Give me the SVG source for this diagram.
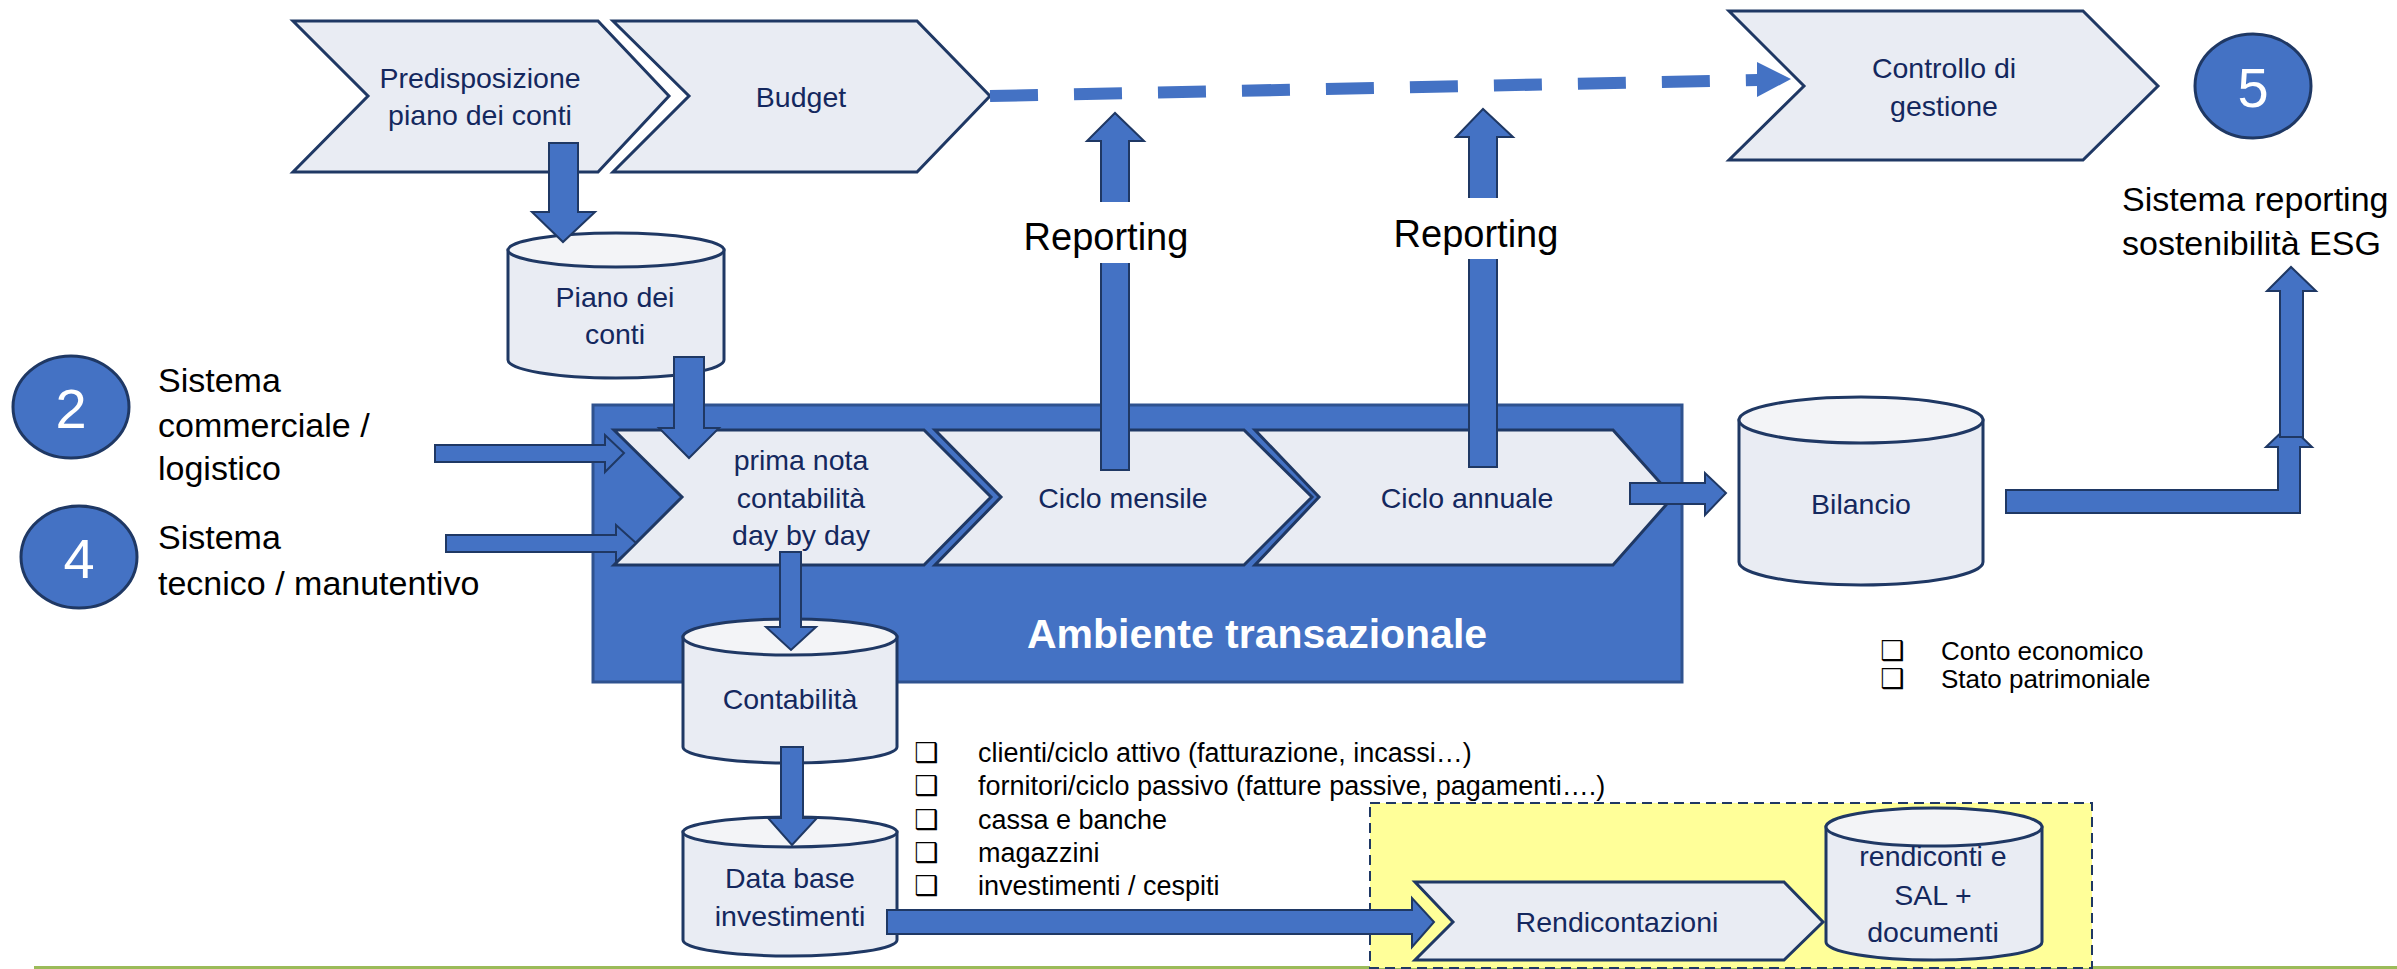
<svg xmlns="http://www.w3.org/2000/svg" width="2397" height="969" viewBox="0 0 2397 969">
<style>
.chev{fill:#E9ECF3;stroke:#1F3864;stroke-width:3;stroke-linejoin:miter}
.cylb{fill:#E9ECF3;stroke:#1F3864;stroke-width:3}
.cylt{fill:#F3F4F7;stroke:#1F3864;stroke-width:3}
.arr{fill:#4472C4;stroke:#1F3864;stroke-width:2;stroke-linejoin:miter}
.circ{fill:#4472C4;stroke:#1F3864;stroke-width:3}
.t{font-family:"Liberation Sans",Arial,sans-serif;font-size:28.5px;fill:#14285E;text-anchor:middle}
.k{font-family:"Liberation Sans",Arial,sans-serif;font-size:34px;fill:#000}
.rep{font-family:"Liberation Sans",Arial,sans-serif;font-size:38px;fill:#000;text-anchor:middle}
.num{font-family:"Liberation Sans",Arial,sans-serif;font-size:56px;fill:#fff;text-anchor:middle}
.b1{font-family:"Liberation Sans",Arial,sans-serif;font-size:27px;fill:#000}
.b2{font-family:"Liberation Sans",Arial,sans-serif;font-size:26px;fill:#000}
.bul{font-family:"DejaVu Sans",sans-serif;font-size:27px;font-weight:bold;fill:#000}
</style>

<!-- background elements -->
<rect id="bottom-line" x="34" y="966" width="2363" height="3" fill="#9BBB59"/>

<g id="ambiente">
  <rect x="593" y="405" width="1089" height="277" fill="#4472C4" stroke="#2F528F" stroke-width="3"/>
  <text x="1257" y="648" font-family="Liberation Sans,Arial,sans-serif" font-size="41" font-weight="bold" fill="#fff" text-anchor="middle">Ambiente transazionale</text>
</g>

<g id="yellow-area">
  <rect x="1370" y="803" width="722" height="165" fill="#FFFF99" stroke="#1F3864" stroke-width="2" stroke-dasharray="10 6"/>
</g>

<!-- top chevrons -->
<g id="predisposizione">
  <polygon class="chev" points="293,21 598,21 669,96 598,172 293,172 368,96"/>
  <text class="t" x="480" y="88">Predisposizione</text>
  <text class="t" x="480" y="125">piano dei conti</text>
</g>
<g id="budget">
  <polygon class="chev" points="613,21 917,21 990,96 917,172 613,172 689,96"/>
  <text class="t" x="801" y="107">Budget</text>
</g>
<g id="controllo">
  <polygon class="chev" points="1729,11 2083,11 2158,86 2083,160 1729,160 1804,86"/>
  <text class="t" x="1944" y="78">Controllo di</text>
  <text class="t" x="1944" y="116">gestione</text>
</g>

<!-- process chevrons -->
<g id="prima-nota">
  <polygon class="chev" points="614,430 924,430 991,497 924,565 614,565 682,497"/>
  <text class="t" x="801" y="470">prima nota</text>
  <text class="t" x="801" y="508">contabilità</text>
  <text class="t" x="801" y="545">day by day</text>
</g>
<g id="ciclo-mensile">
  <polygon class="chev" points="935,430 1244,430 1312,497 1244,565 935,565 1001,497"/>
  <text class="t" x="1123" y="508">Ciclo mensile</text>
</g>
<g id="ciclo-annuale">
  <polygon class="chev" points="1255,430 1613,430 1673,497 1613,565 1255,565 1319,497"/>
  <text class="t" x="1467" y="508">Ciclo annuale</text>
</g>
<g id="rendicontazioni">
  <polygon class="chev" points="1415,882 1784,882 1823,922 1784,960 1415,960 1453,922"/>
  <text class="t" x="1617" y="932">Rendicontazioni</text>
</g>

<!-- cylinders -->
<g id="piano-dei-conti">
  <path class="cylb" d="M508,250 L508,360 A108,18 0 0 0 724,360 L724,250 Z"/>
  <ellipse class="cylt" cx="616" cy="250" rx="108" ry="17"/>
  <text class="t" x="615" y="307">Piano dei</text>
  <text class="t" x="615" y="344">conti</text>
</g>
<g id="bilancio">
  <path class="cylb" d="M1739,420 L1739,562 A122,23 0 0 0 1983,562 L1983,420 Z"/>
  <ellipse class="cylt" cx="1861" cy="420" rx="122" ry="23"/>
  <text class="t" x="1861" y="514">Bilancio</text>
</g>
<g id="contabilita">
  <path class="cylb" d="M683,637 L683,747 A107,16 0 0 0 897,747 L897,637 Z"/>
  <ellipse class="cylt" cx="790" cy="637" rx="107" ry="18"/>
  <text class="t" x="790" y="709">Contabilità</text>
</g>
<g id="database-investimenti">
  <path class="cylb" d="M683,832 L683,940 A107,16 0 0 0 897,940 L897,832 Z"/>
  <ellipse class="cylt" cx="790" cy="832" rx="107" ry="15"/>
  <text class="t" x="790" y="888">Data base</text>
  <text class="t" x="790" y="926">investimenti</text>
</g>
<g id="rendiconti-sal">
  <path class="cylb" d="M1826,827 L1826,942 A108,18 0 0 0 2042,942 L2042,827 Z"/>
  <ellipse class="cylt" cx="1934" cy="827" rx="108" ry="19"/>
  <text class="t" x="1933" y="866">rendiconti e</text>
  <text class="t" x="1933" y="905">SAL +</text>
  <text class="t" x="1933" y="942">documenti</text>
</g>

<!-- numbered systems -->
<g id="sistema-2">
  <ellipse class="circ" cx="71" cy="407" rx="58" ry="51"/>
  <text class="num" x="71" y="428">2</text>
  <text class="k" x="158" y="392">Sistema</text>
  <text class="k" x="158" y="437">commerciale /</text>
  <text class="k" x="158" y="480">logistico</text>
</g>
<g id="sistema-4">
  <ellipse class="circ" cx="79" cy="557" rx="58" ry="51"/>
  <text class="num" x="79" y="578">4</text>
  <text class="k" x="158" y="549">Sistema</text>
  <text class="k" x="158" y="595">tecnico / manutentivo</text>
</g>
<g id="sistema-5">
  <ellipse class="circ" cx="2253" cy="86" rx="58" ry="52"/>
  <text class="num" x="2253" y="107">5</text>
  <text class="k" x="2122" y="211">Sistema reporting</text>
  <text class="k" x="2122" y="255">sostenibilità ESG</text>
</g>

<!-- bullet lists -->
<g id="lista-contabilita">
  <text class="bul" x="914" y="762">❑</text>
  <text class="bul" x="914" y="795">❑</text>
  <text class="bul" x="914" y="829">❑</text>
  <text class="bul" x="914" y="862">❑</text>
  <text class="bul" x="914" y="895">❑</text>
  <text class="b1" x="978" y="762">clienti/ciclo attivo (fatturazione, incassi…)</text>
  <text class="b1" x="978" y="795">fornitori/ciclo passivo (fatture passive, pagamenti….)</text>
  <text class="b1" x="978" y="829">cassa e banche</text>
  <text class="b1" x="978" y="862">magazzini</text>
  <text class="b1" x="978" y="895">investimenti / cespiti</text>
</g>
<g id="lista-bilancio">
  <text class="bul" x="1880" y="660">❑</text>
  <text class="bul" x="1880" y="688">❑</text>
  <text class="b2" x="1941" y="660">Conto economico</text>
  <text class="b2" x="1941" y="688">Stato patrimoniale</text>
</g>

<!-- connectors -->
<g id="connectors">
  <line x1="990" y1="96" x2="1758" y2="80" stroke="#4472C4" stroke-width="12" stroke-dasharray="48 36"/>
  <polygon points="1757,62 1791,79 1757,97" fill="#4472C4"/>

  <polygon class="arr" points="549,143 578,143 578,212 595,212 563,242 532,212 549,212"/>
  <polygon class="arr" points="674,357 704,357 704,428 719,428 689,458 659,428 674,428"/>
  <polygon class="arr" points="780,552 801,552 801,627 816,627 791,650 766,627 780,627"/>
  <polygon class="arr" points="781,747 803,747 803,818 817,818 792,845 768,818 781,818"/>

  <polygon class="arr" points="1101,470 1129,470 1129,141 1144,141 1115,113 1087,141 1101,141"/>
  <polygon class="arr" points="1469,467 1497,467 1497,137 1513,137 1483,109 1456,137 1469,137"/>

  <polygon class="arr" points="435,445 605,445 605,435 624,453 605,472 605,462 435,462"/>
  <polygon class="arr" points="446,535 616,535 616,525 636,543 616,562 616,552 446,552"/>
  <polygon class="arr" points="1630,483 1705,483 1705,473 1726,493 1705,515 1705,504 1630,504"/>
  <polygon class="arr" points="887,910 1412,910 1412,898 1434,922 1412,947 1412,934 887,934"/>

  <polygon class="arr" points="2006,490 2278,490 2278,447 2266,447 2289,425 2312,447 2300,447 2300,513 2006,513"/>
  <polygon class="arr" points="2280,437 2303,437 2303,291 2316,291 2291,267 2267,291 2280,291"/>
</g>

<!-- labels on connectors -->
<g id="label-reporting-1">
  <rect x="1020" y="202" width="176" height="61" fill="#fff"/>
  <text class="rep" x="1106" y="250">Reporting</text>
</g>
<g id="label-reporting-2">
  <rect x="1390" y="198" width="174" height="61" fill="#fff"/>
  <text class="rep" x="1476" y="247">Reporting</text>
</g>
</svg>
